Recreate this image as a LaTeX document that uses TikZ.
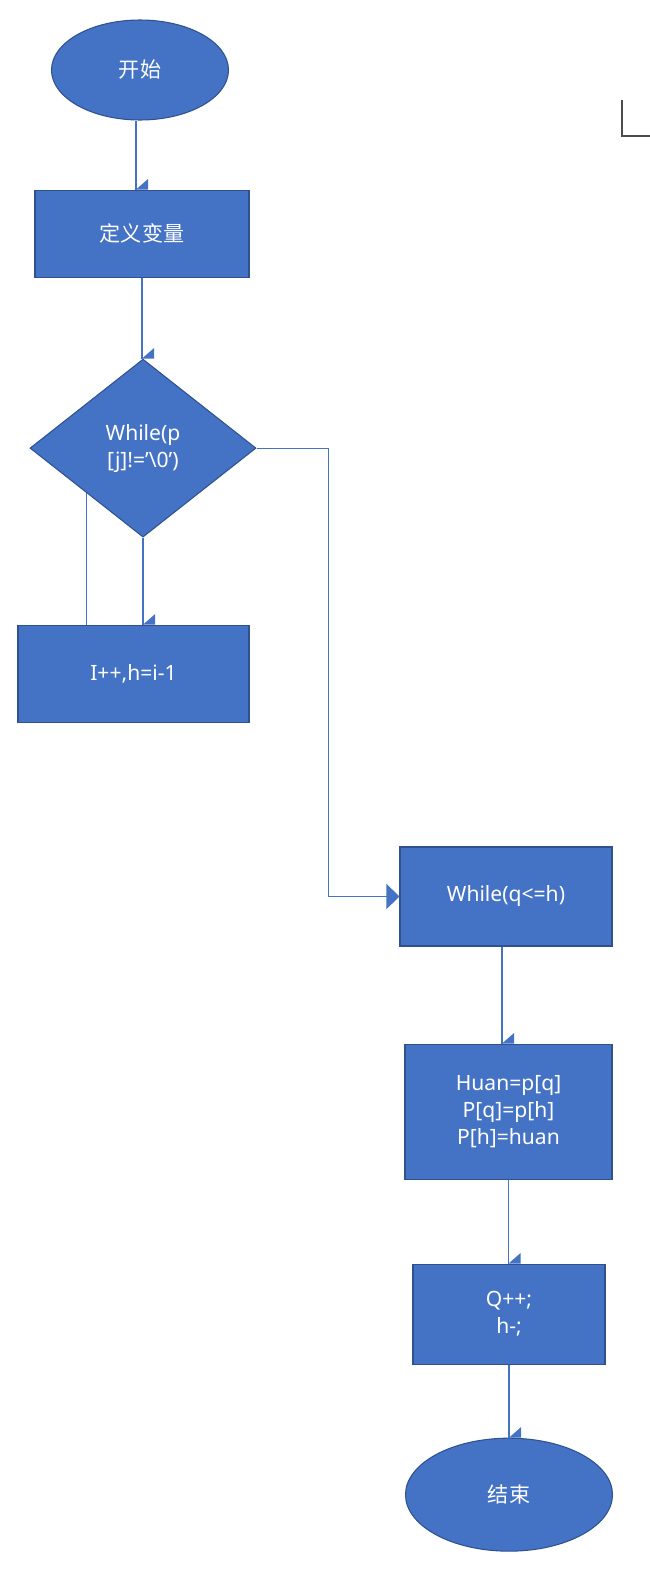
\documentclass[tikz,border=0pt]{standalone}
\usepackage{fontspec}
\setmainfont{Noto Sans}
\newfontfamily\cjk{Noto Sans CJK SC}
\usetikzlibrary{arrows.meta, positioning, shapes.geometric}
\definecolor{wordblue}{HTML}{4472C4}
\definecolor{wordedge}{HTML}{2F528F}
\newcommand{\flowdown}[2]{%
  \draw[link] (#1) -- (#2);
  \fill[wordblue] (#2) -- ++(0.24,0) -- ++(0,0.21) -- cycle;}

\begin{document}
\begin{tikzpicture}[
    node distance=1.5cm,
    base/.style={draw=wordedge, line width=0.6pt, fill=wordblue, text=white,
                 inner sep=2pt, align=center, font=\fontsize{12}{15.3}\selectfont},
    terminal/.style={base, ellipse},
    process/.style={base, rectangle},
    decision/.style={base, diamond, aspect=1.27, inner sep=0pt},
    link/.style={wordblue, line width=0.6pt},
    bigarrow/.style={link, -{Triangle[length=2.6mm, width=5mm]}}
  ]
    \useasboundingbox (0,0) rectangle (13,-31.52);

    \node[terminal, minimum width=3.54cm, minimum height=2cm] (start) at (2.8,-1.4) {\cjk 开始};
    \node[process, below=1.38cm of start, xshift=0.04cm, minimum width=4.28cm, minimum height=1.74cm] (define) {\cjk 定义变量};
    \node[decision, below=1.62cm of define, xshift=0.02cm, minimum width=4.52cm, minimum height=3.56cm] (dia) {While(p\\{[j]!=’\textbackslash 0’)}};
    \node[process, below=1.74cm of dia, xshift=-0.19cm, minimum width=4.62cm, minimum height=1.94cm] (ipp) {I++,h=i-1};

    \node[process, minimum width=4.24cm, minimum height=1.98cm] (wq) at (10.12,-17.93) {While(q<=h)};
    \node[process, below=1.94cm of wq, xshift=0.05cm, minimum width=4.14cm, minimum height=2.7cm] (huan) {Huan=p[q]\\P[q]=p[h]\\P[h]=huan};
    \node[process, below=1.68cm of huan, xshift=0.01cm, minimum width=3.84cm, minimum height=2cm] (qq) {Q++;\\h-;};
    \node[terminal, below=1.46cm of qq, minimum width=4.14cm, minimum height=2.26cm] (stop) {\cjk 结束};

    \flowdown{[xshift=-0.08cm]start.south}{[xshift=-0.08cm]start.south |- define.north}
    \flowdown{define.south}{define.south |- dia.north}
    \flowdown{dia.south}{dia.south |- ipp.north}
    \draw[link] (dia.south west) -- (dia.south west |- ipp.north);
    \draw[bigarrow] (dia.east) -- ++(1.44,0) |- (wq.west);
    \flowdown{[xshift=-0.08cm]wq.south}{[xshift=-0.08cm]wq.south |- huan.north}
    \flowdown{huan.south}{huan.south |- qq.north}
    \flowdown{qq.south}{qq.south |- stop.north}

    \draw[black!70, line width=0.6pt] (12.44,-2.0) -- (12.44,-2.72) -- (13,-2.72);
  \end{tikzpicture}
\end{document}
